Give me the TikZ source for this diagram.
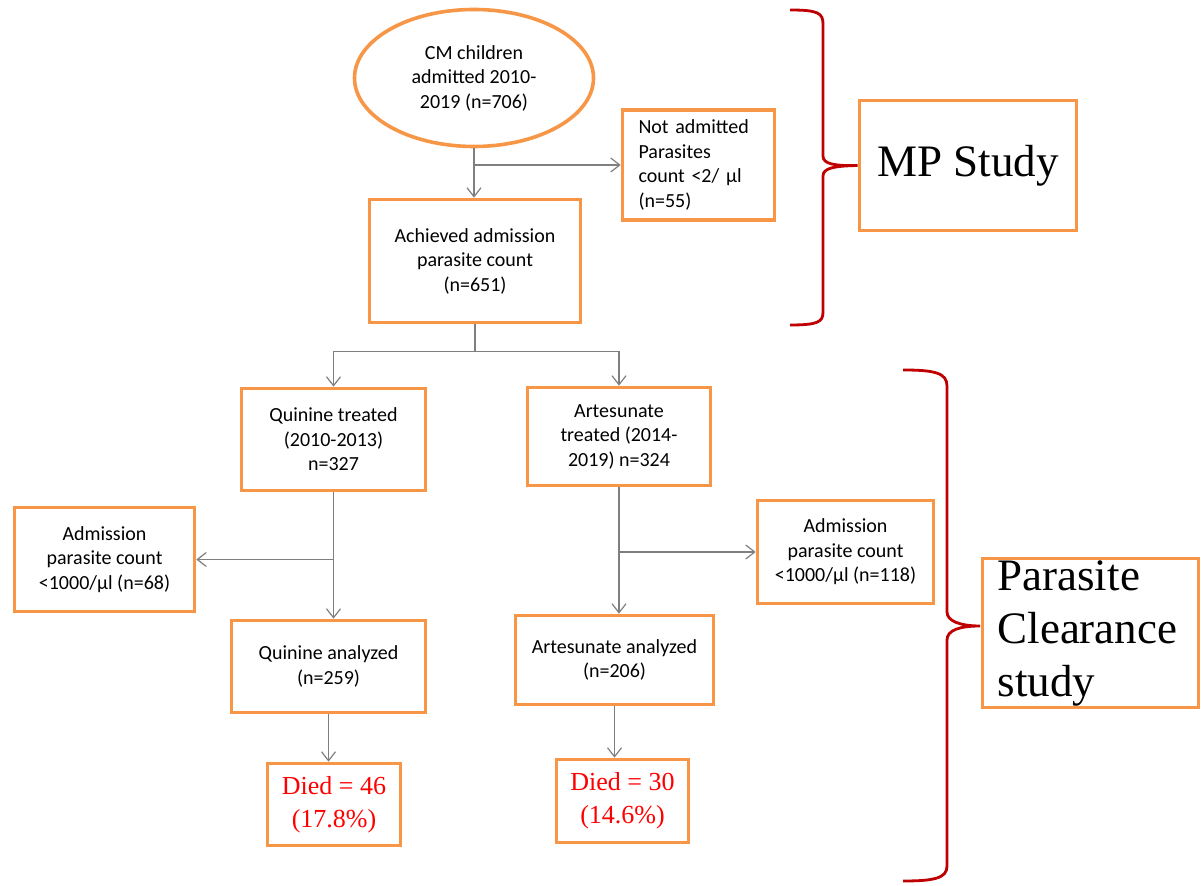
\documentclass[tikz,border=0pt]{standalone}
\usepackage{fontspec}
\setmainfont{Liberation Serif}
\setsansfont{Carlito}
\usetikzlibrary{arrows.meta,shapes.geometric}
\definecolor{boxorange}{HTML}{F79646}
\definecolor{bracered}{HTML}{C00000}
\definecolor{linegray}{HTML}{7F7F7F}

\begin{document}
\begin{tikzpicture}[x=0.5pt, y=-0.5pt, >={Straight Barb[length=4.5pt,width=7pt]},
  box/.style={draw=boxorange, line width=1.8pt, align=center, inner sep=0pt,
    font=\sffamily\fontsize{10}{12.25}\selectfont},
  redbox/.style={box, text=red, font=\rmfamily\fontsize{13}{16.5}\selectfont},
  bigbox/.style={box, font=\rmfamily\fontsize{22.5}{26.5}\selectfont},
  flow/.style={draw=linegray, line width=0.6pt},
  brace/.style={draw=bracered, line width=1.4pt}]
  \useasboundingbox (0,0) rectangle (1204,886);

  % top part
  \node[box, ellipse, minimum width=119.5pt, minimum height=68.5pt] (cm) at (474,78) {CM children\\admitted 2010-\\2019 (n=706)};
  \node[box, align=left, text width=60pt, minimum width=76pt, minimum height=55pt] (notadm) at (698.5,165) {Not admitted\\Parasites\\count <2/ µl\\(n=55)};
  \node[box, minimum width=105.5pt, minimum height=61.5pt] (achieved) at (475,261) {Achieved admission\\parasite count\\(n=651)};

  % treatment arms
  \node[box, minimum width=92pt, minimum height=51pt] (quinine) at (333.5,439.5) {Quinine treated\\(2010-2013)\\n=327};
  \node[box, minimum width=91.5pt, minimum height=49pt] (arttreat) at (619,436.5) {Artesunate\\treated (2014-\\2019) n=324};
  \node[box, minimum width=90pt, minimum height=52pt] (admleft) at (104.5,559.5) {Admission\\parasite count\\<1000/µl (n=68)};
  \node[box, minimum width=88pt, minimum height=51.5pt] (admright) at (845.5,552) {Admission\\parasite count\\<1000/µl (n=118)};
  \node[box, minimum width=97pt, minimum height=46pt] (qanalyzed) at (328.5,666.5) {Quinine analyzed\\(n=259)};
  \node[box, minimum width=99pt, minimum height=44.5pt] (aanalyzed) at (614.5,660) {Artesunate analyzed\\(n=206)};
  \node[redbox, minimum width=66.5pt, minimum height=41pt] (died1) at (334,804.5) {Died = 46\\(17.8\%)};
  \node[redbox, minimum width=66pt, minimum height=41.5pt] (died2) at (622.5,801) {Died = 30\\(14.6\%)};

  % study labels
  \node[bigbox, minimum width=108.5pt, minimum height=65pt] (mpstudy) at (968,165.5) {MP Study};
  \node[bigbox, align=left, text width=93pt, minimum width=108pt, minimum height=74.5pt] (clearance) at (1090.5,633) {Parasite\\Clearance\\study};

  % connectors
  \draw[flow, ->] (cm.south) -- (cm.south |- achieved.north);
  \draw[flow, ->] (cm.south |- notadm.west) -- (notadm.west);
  \draw[flow] (achieved.south) -- ++(0,27) coordinate (split);
  \draw[flow, ->] (split) -| (quinine.north);
  \draw[flow, ->] (split) -| (arttreat.north);
  \draw[flow, ->] (quinine.south) -- (quinine.south |- qanalyzed.north);
  \draw[flow, ->] (quinine.south |- admleft.east) -- (admleft.east);
  \draw[flow, ->] (arttreat.south) -- (arttreat.south |- aanalyzed.north);
  \draw[flow, ->] (arttreat.south |- admright.west) -- (admright.west);
  \draw[flow, ->] (qanalyzed.south) -- (qanalyzed.south |- died1.north);
  \draw[flow, ->] (aanalyzed.south) -- (aanalyzed.south |- died2.north);

  % braces
  \draw[brace] (790,10) .. controls (818,10) and (823,13) .. (823,24) -- (823,156)
    .. controls (823,164) and (834,166) .. (mpstudy.west)
    .. controls (834,166) and (823,168) .. (823,176) -- (823,312)
    .. controls (823,322) and (818,325) .. (790,325);
  \draw[brace] (903,370) .. controls (935,370) and (947,373) .. (947,386) -- (947,612)
    .. controls (947,621) and (960,626) .. (980,626)
    .. controls (960,626) and (947,630) .. (947,640) -- (947,866)
    .. controls (947,878) and (935,881) .. (903,881);
\end{tikzpicture}
\end{document}
